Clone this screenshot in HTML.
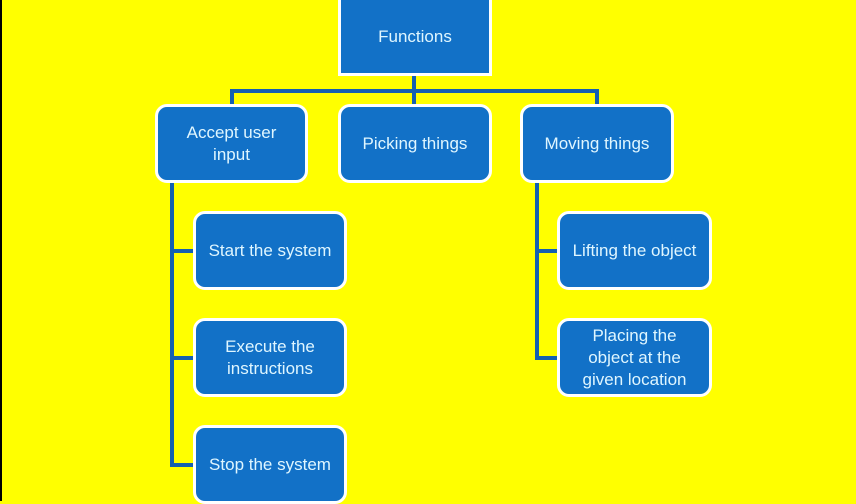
<!DOCTYPE html>
<html><head><style>
html,body{margin:0;padding:0}
body{width:856px;height:501px;background:#ffff00;position:relative;overflow:hidden;font-family:"Liberation Sans",sans-serif}
.b{position:absolute;box-sizing:border-box;background:#1271c7;border:3px solid #fff;border-radius:12px;color:#dff6ff;font-size:17px;line-height:22px;display:flex;align-items:center;justify-content:center;text-align:center}
svg{position:absolute;left:0;top:0}
</style></head><body>
<div style="position:absolute;left:0;top:0;width:2px;height:501px;background:#000"></div>
<svg width="856" height="501"><g stroke="#1560b0" stroke-width="4" fill="none">
<path d="M414 74V106M232 106V91H597V106"/>
<path d="M172 180V465H196M172 251H196M172 358H196"/>
<path d="M537 180V358H560M537 251H560"/>
</g></svg>
<div class="b" style="left:338px;top:-3px;width:154px;height:79px;border-radius:0">Functions</div>
<div class="b" style="left:155px;top:104px;width:153px;height:79px">Accept user<br>input</div>
<div class="b" style="left:338px;top:104px;width:154px;height:79px">Picking things</div>
<div class="b" style="left:520px;top:104px;width:154px;height:79px">Moving things</div>
<div class="b" style="left:193px;top:211px;width:154px;height:79px">Start the system</div>
<div class="b" style="left:193px;top:318px;width:154px;height:79px">Execute the<br>instructions</div>
<div class="b" style="left:193px;top:425px;width:154px;height:79px">Stop the system</div>
<div class="b" style="left:557px;top:211px;width:155px;height:79px">Lifting the object</div>
<div class="b" style="left:557px;top:318px;width:155px;height:79px">Placing the<br>object at the<br>given location</div>
</body></html>
